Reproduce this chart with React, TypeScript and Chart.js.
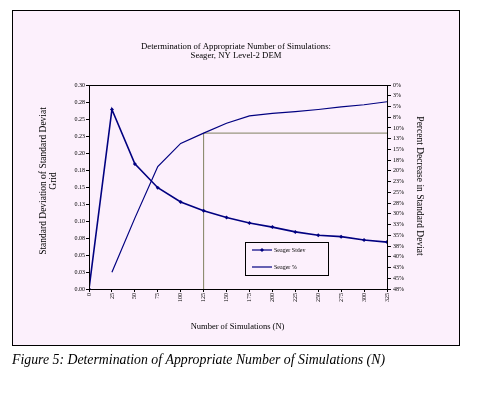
import React, { useEffect, useRef } from 'react';
import { Chart, registerables } from 'chart.js';

Chart.register(...registerables);

const simulations = [0, 25, 50, 75, 100, 125, 150, 175, 200, 225, 250, 275, 300, 325];
const stdevValues = [0.0, 0.264, 0.184, 0.149, 0.128, 0.115, 0.105, 0.097, 0.091, 0.084, 0.079, 0.077, 0.072, 0.069];
const percentValues = [null, 43.6, 31.0, 19.0, 13.6, 11.2, 8.9, 7.2, 6.6, 6.2, 5.7, 5.1, 4.6, 3.9];
const refLineX = [125, 125, 325];
const refLineY = [47.5, 11.2, 11.2];
const leftTickLabels = ['0.00', '0.03', '0.05', '0.08', '0.10', '0.13', '0.15', '0.18', '0.20', '0.23', '0.25', '0.28', '0.30'];
const rightTickLabels = ['0%', '3%', '5%', '8%', '10%', '13%', '15%', '18%', '20%', '23%', '25%', '28%', '30%', '33%', '35%', '38%', '40%', '43%', '45%', '48%'];
const xTickLabels = ['0', '25', '50', '75', '100', '125', '150', '175', '200', '225', '250', '275', '300', '325'];

const titleLines = ['Determination of Appropriate Number of Simulations:', 'Seager, NY Level-2 DEM'];
const xTitle = 'Number of Simulations (N)';
const leftTitleLines = ['Standard Deviation of Standard Deviat', 'Grid'];
const rightTitle = 'Percent Decrease in Standard Deviat';
const caption = 'Figure 5: Determination of Appropriate Number of Simulations (N)';

const NAVY = '#000080';
const OLIVE = '#808060';
const PINK = '#fcf0fc';
const SERIF = '"Liberation Serif", "DejaVu Serif", serif';

const W = 493;
const H = 393;

const decorPlugin = {
  id: 'decor',
  beforeDraw(chart: any) {
    const ctx = chart.ctx;
    ctx.save();
    ctx.fillStyle = '#ffffff';
    ctx.fillRect(0, 0, W, H);
    ctx.fillStyle = PINK;
    ctx.fillRect(12, 10, 447, 335);
    ctx.strokeStyle = '#000000';
    ctx.lineWidth = 1;
    ctx.strokeRect(12.5, 10.5, 447, 335);
    ctx.restore();
  },
  afterDraw(chart: any) {
    const ctx = chart.ctx;
    const a = chart.chartArea;
    ctx.save();
    ctx.strokeStyle = '#000000';
    ctx.lineWidth = 1;
    ctx.strokeRect(Math.round(a.left) + 0.5, Math.round(a.top) + 0.5, Math.round(a.right - a.left), Math.round(a.bottom - a.top));

    ctx.fillStyle = '#000000';
    ctx.textAlign = 'center';
    ctx.textBaseline = 'middle';
    ctx.font = '8.7px ' + SERIF;
    ctx.fillText(titleLines[0], 236, 47);
    ctx.fillText(titleLines[1], 236, 55.5);

    ctx.font = '8.5px ' + SERIF;
    ctx.fillText(xTitle, 237.5, 327);

    ctx.font = '9.5px ' + SERIF;
    ctx.save();
    ctx.translate(43, 181);
    ctx.rotate(-Math.PI / 2);
    ctx.fillText(leftTitleLines[0], 0, 0);
    ctx.restore();
    ctx.save();
    ctx.translate(53, 181);
    ctx.rotate(-Math.PI / 2);
    ctx.fillText(leftTitleLines[1], 0, 0);
    ctx.restore();

    ctx.save();
    ctx.translate(419, 186);
    ctx.rotate(Math.PI / 2);
    ctx.fillText(rightTitle, 0, 0);
    ctx.restore();

    // legend
    const ds = chart.data.datasets;
    ctx.strokeStyle = '#000000';
    ctx.lineWidth = 1;
    ctx.strokeRect(245.5, 242.5, 83, 33);
    const rows = [250, 267];
    [0, 1].forEach((k) => {
      const y = rows[k];
      ctx.strokeStyle = NAVY;
      ctx.lineWidth = 1.2;
      ctx.beginPath();
      ctx.moveTo(252, y);
      ctx.lineTo(272, y);
      ctx.stroke();
      if (k === 0) {
        ctx.fillStyle = NAVY;
        ctx.beginPath();
        ctx.moveTo(262, y - 2);
        ctx.lineTo(264, y);
        ctx.lineTo(262, y + 2);
        ctx.lineTo(260, y);
        ctx.closePath();
        ctx.fill();
      }
      ctx.fillStyle = '#000000';
      ctx.textAlign = 'left';
      ctx.font = '6px ' + SERIF;
      ctx.fillText(ds[k].label, 274, y);
    });

    ctx.textAlign = 'left';
    ctx.textBaseline = 'alphabetic';
    ctx.font = 'italic 13.8px ' + SERIF;
    ctx.fillText(caption, 12, 364);
    ctx.restore();
  },
};

export default function App() {
  const ref = useRef<HTMLCanvasElement | null>(null);

  useEffect(() => {
    if (!ref.current) return;
    const tickFont = { family: SERIF, size: 6 };
    const chart = new Chart(ref.current, {
      type: 'line',
      data: {
        datasets: [
          {
            label: 'Seager Stdev',
            data: simulations.map((n, i) => ({ x: n, y: stdevValues[i] })),
            borderColor: NAVY,
            backgroundColor: NAVY,
            borderWidth: 1.6,
            pointStyle: 'rectRot',
            pointRadius: 2,
            pointBorderWidth: 0,
            yAxisID: 'y',
            tension: 0,
          },
          {
            label: 'Seager %',
            data: simulations.map((n, i) => ({ x: n, y: percentValues[i] })),
            borderColor: NAVY,
            backgroundColor: NAVY,
            borderWidth: 1.2,
            pointRadius: 0,
            yAxisID: 'y2',
            tension: 0,
          },
          {
            label: 'reference',
            data: refLineX.map((x, i) => ({ x, y: refLineY[i] })),
            borderColor: OLIVE,
            borderWidth: 1,
            pointRadius: 0,
            yAxisID: 'y2',
            tension: 0,
          },
        ] as any,
      },
      options: {
        responsive: false,
        animation: false,
        devicePixelRatio: 1,
        layout: { padding: { top: 85, left: 0, right: 0, bottom: 0 } },
        plugins: {
          legend: { display: false },
          title: { display: false },
          tooltip: { enabled: false },
        },
        scales: {
          x: {
            type: 'linear',
            min: 0,
            max: 325,
            grid: { display: true, drawOnChartArea: false, color: '#000000', tickLength: 3 },
            border: { color: '#000000' },
            ticks: {
              stepSize: 25,
              autoSkip: false,
              maxRotation: 90,
              minRotation: 90,
              padding: 1,
              color: '#000000',
              font: tickFont,
              callback: (v: any) => xTickLabels[Math.round(v / 25)],
            },
            afterFit: (s: any) => { s.height = H - 289; },
          },
          y: {
            type: 'linear',
            position: 'left',
            min: 0,
            max: 0.3,
            grid: { display: true, drawOnChartArea: false, color: '#000000', tickLength: 3 },
            border: { color: '#000000' },
            ticks: {
              stepSize: 0.025,
              autoSkip: false,
              padding: 1,
              color: '#000000',
              font: tickFont,
              callback: (v: any) => leftTickLabels[Math.round(v / 0.025)],
            },
            afterFit: (s: any) => { s.width = 89; },
          },
          y2: {
            type: 'linear',
            position: 'right',
            reverse: true,
            min: 0,
            max: 47.5,
            grid: { display: true, drawOnChartArea: false, color: '#000000', tickLength: 4 },
            border: { color: '#000000' },
            ticks: {
              stepSize: 2.5,
              autoSkip: false,
              padding: 2,
              color: '#000000',
              font: tickFont,
              callback: (v: any) => rightTickLabels[Math.round(v / 2.5)],
            },
            afterFit: (s: any) => { s.width = W - 387; },
          },
        },
      } as any,
      plugins: [decorPlugin],
    });
    return () => chart.destroy();
  }, []);

  return (
    <div style={{ position: 'fixed', left: 0, top: 0, width: W, height: H }}>
      <canvas ref={ref} width={W} height={H} style={{ width: W, height: H, display: 'block' }} />
    </div>
  );
}
